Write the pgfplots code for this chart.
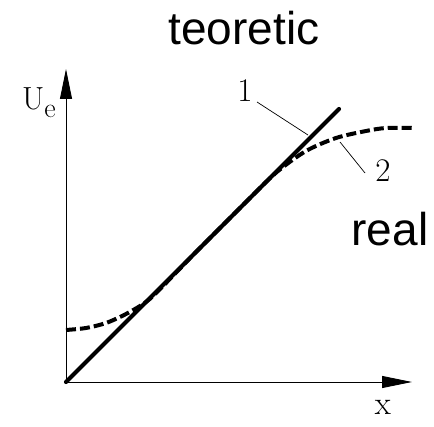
\documentclass[border=0pt]{standalone}
\usepackage{fontspec}
\usepackage{pgfplots}
\pgfplotsset{compat=1.18}
\usetikzlibrary{arrows.meta}
\newfontfamily\sansf{Liberation Sans}
\begin{document}
\begin{tikzpicture}
\begin{axis}[
  scale only axis, width=346pt, height=313pt,
  xmin=0, xmax=346, ymin=0, ymax=313,
  axis x line=bottom, axis y line=left,
  axis line style={line width=0.9pt, -{Triangle[length=30pt,width=12pt]}},
  xtick=\empty, ytick=\empty,
  clip=false,
]
\path (axis cs:-66,-44) rectangle (axis cs:368,382);
% real
\addplot[black, line width=4pt, smooth, tension=0.5, dash pattern=on 10pt off 4pt] coordinates {
(0,52) (20,54) (40,59) (60,68) (80,80) (96,95) (130,130) (160,160) (190,190) (212,211) (240,231) (270,244) (300,251) (320,254) (346,254)};
% theoretical
\addplot[black, line width=4.2pt, line cap=round] coordinates {(0,0) (273,273)};
% leaders
\draw[line width=0.7pt] (axis cs:191,280) -- (axis cs:242,247);
\draw[line width=0.7pt] (axis cs:299,209) -- (axis cs:274,240);
\node[anchor=base, font=\fontsize{33}{34}\selectfont] at (axis cs:179,280) {1};
\node[anchor=base, font=\fontsize{33}{34}\selectfont] at (axis cs:317,200) {2};
\node[anchor=base, font=\fontsize{33}{34}\selectfont] at (axis cs:317,-32) {x};
\node[anchor=base west, inner sep=0pt, font=\fontsize{32}{32}\selectfont] at (axis cs:-44,272) {U\raisebox{-8pt}{\fontsize{28}{28}\selectfont e}};
\node[anchor=base, inner sep=0pt, font=\sansf\fontsize{46}{50}\selectfont] at (axis cs:178,337) {teoretic};
\node[anchor=base, inner sep=0pt, font=\sansf\fontsize{46}{50}\selectfont] at (axis cs:324,136) {real};
\end{axis}
\end{tikzpicture}
\end{document}
